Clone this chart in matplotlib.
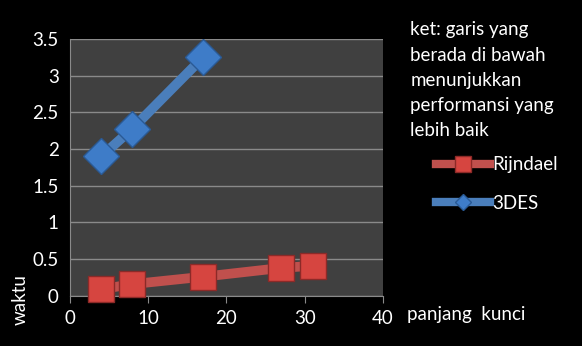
import matplotlib.pyplot as plt
from matplotlib.lines import Line2D

plt.rcParams['font.family'] = ['Lato', 'DejaVu Sans']

# panjang kunci vs waktu
x_rijndael = [4, 8, 17, 27, 31]
y_rijndael = [0.09, 0.16, 0.26, 0.38, 0.41]
x_3des = [4, 8, 17]
y_3des = [1.90, 2.28, 3.25]

x_ticks = [0, 10, 20, 30, 40]
y_ticks = [0, 0.5, 1, 1.5, 2, 2.5, 3, 3.5]
y_tick_labels = ['0', '0.5', '1', '1.5', '2', '2.5', '3', '3.5']

merah = '#C0504D'
merah_marker = '#D64540'
biru = '#4A7EBB'
biru_marker = '#3E7CC8'

fig = plt.figure(figsize=(5.82, 3.46), dpi=100, facecolor='black')
ax = fig.add_axes([0.120, 0.145, 0.538, 0.742])
ax.set_facecolor('#404040')

ax.plot(x_3des, y_3des, color=biru, lw=7, solid_capstyle='butt', zorder=3)
ax.plot(x_3des, y_3des, ls='none', marker='D', ms=18, mfc=biru_marker,
        mec='#2A5A95', mew=1, zorder=4, clip_on=False)
ax.plot(x_rijndael, y_rijndael, color=merah, lw=7, solid_capstyle='butt', zorder=3)
ax.plot(x_rijndael, y_rijndael, ls='none', marker='s', ms=19, mfc=merah_marker,
        mec='#8C2A28', mew=1, zorder=4, clip_on=False)

ax.set_xlim(0, 40)
ax.set_ylim(0, 3.5)
ax.set_xticks(x_ticks)
ax.set_yticks(y_ticks)
ax.set_yticklabels(y_tick_labels)
ax.grid(axis='y', color='#8A8A8A', lw=1)
ax.set_axisbelow(True)
for s in ['top', 'right']:
    ax.spines[s].set_visible(False)
for s in ['left', 'bottom']:
    ax.spines[s].set_color('#8A8A8A')
ax.tick_params(axis='x', colors='#8A8A8A', labelcolor='white', labelsize=13.5,
               length=5, direction='out', pad=5)
ax.tick_params(axis='y', length=0, labelcolor='white', labelsize=13.5, pad=8)

fig.text(0.034, 0.133, 'waktu', rotation=90, color='white', fontsize=13.5,
         ha='center', va='center')
fig.text(0.700, 0.092, 'panjang  kunci', color='white', fontsize=13.5,
         ha='left', va='center')
fig.text(0.705, 0.938, 'ket: garis yang\nberada di bawah\nmenunjukkan\nperformansi yang\nlebih baik',
         color='white', fontsize=13.5, ha='left', va='top', linespacing=1.58)

handles = [
    Line2D([], [], color=merah, lw=6, marker='s', ms=11, mfc=merah_marker, mec='#8C2A28'),
    Line2D([], [], color=biru, lw=6, marker='D', ms=8, mfc=biru_marker, mec='#2A5A95'),
]
leg = fig.legend(handles, ['Rijndael', '3DES'], loc='upper left',
                 bbox_to_anchor=(0.72, 0.597), frameon=False, fontsize=13.5,
                 handlelength=2.9, handletextpad=0.1, labelspacing=1.15,
                 labelcolor='white')

fig.savefig('out.png', dpi=100, facecolor='black')
